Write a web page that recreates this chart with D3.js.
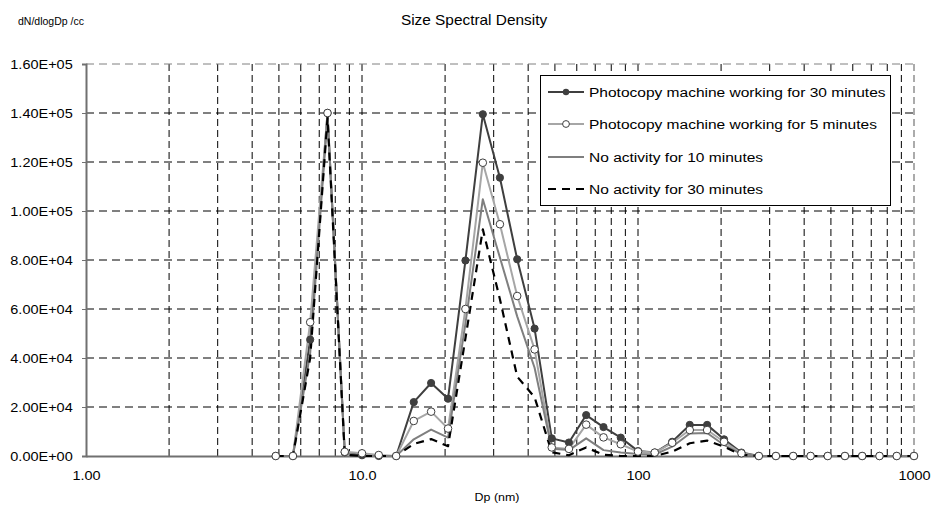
<!DOCTYPE html>
<html>
<head>
<meta charset="utf-8">
<script src="https://cdn.jsdelivr.net/npm/d3@7"></script>
<style>
  body { margin: 0; background: #fff; }
  svg { display: block; font-family: "Liberation Sans", Arial, sans-serif; }
</style>
</head>
<body>
<svg id="chart" width="931" height="510"></svg>
<script>
// ---- data ----
const dp = [4.87, 5.62, 6.49, 7.50, 8.66, 10.0, 11.5, 13.3, 15.4, 17.8, 20.5, 23.7, 27.4, 31.6, 36.5, 42.2, 48.7, 56.2, 64.9, 75.0, 86.6, 100, 115, 133, 154, 178, 205, 237, 274, 316, 365, 422, 487, 562, 649, 750, 866, 1000];

const working30 = [0, 0, 47500, 140000, 1500, 300, 0, 0, 22000, 29800, 23400, 79800, 139500, 113600, 80300, 52000, 7200, 5500, 16700, 11800, 7500, 2000, 1400, 5800, 12700, 12700, 6800, 1400, 0, 0, 0, 0, 0, 0, 0, 0, 0, 0];
const working5 = [0, 0, 54600, 140000, 1700, 1100, 400, 0, 14300, 18100, 11200, 60000, 119700, 94600, 65300, 43500, 3500, 2900, 12800, 7600, 4800, 1800, 1400, 5400, 10600, 10600, 5800, 1100, 0, 0, 0, 0, 0, 0, 0, 0, 0, 0];
const idle10 = [0, 0, 42000, 139000, 1200, 0, 0, 0, 6800, 10800, 7500, 54000, 104800, 81000, 57000, 36000, 3000, 2400, 7200, 2400, 1400, 800, 600, 3800, 9200, 9400, 4500, 800, 0, 0, 0, 0, 0, 0, 0, 0, 0, 0];
const idle30 = [0, 0, 40000, 138000, 500, 0, 0, 0, 4900, 6900, 4000, 48000, 92500, 64000, 32400, 24000, 1500, 300, 3500, 500, 0, 0, 0, 1800, 5200, 6300, 3800, 500, 0, 0, 0, 0, 0, 0, 0, 0, 0, 0];

const seriesNames = ["Photocopy machine working for 30 minutes", "Photocopy machine working for 5 minutes", "No activity for 10 minutes", "No activity for 30 minutes"];

const xTickValues = [1, 10, 100, 1000];
const xTickLabels = ["1.00", "10.0", "100", "1000"];
const yTickValues = [0, 20000, 40000, 60000, 80000, 100000, 120000, 140000, 160000];

const titleText = "Size Spectral Density";
const yAxisTitle = "dN/dlogDp /cc";
const xAxisTitle = "Dp (nm)";

// ---- layout ----
const svg = d3.select("#chart");
const x = d3.scaleLog().domain([1, 1000]).range([86, 914]);
const y = d3.scaleLinear().domain([0, 160000]).range([456, 64]);
const FONT = "Liberation Sans, Arial, sans-serif";

function sci(v) {
  if (v === 0) return "0.00E+00";
  const e = Math.floor(Math.log10(v) + 1e-9);
  const m = (v / Math.pow(10, e)).toFixed(2);
  return m + "E+" + String(e).padStart(2, "0");
}

// horizontally stretched text helper (reference text is wider than tall)
function stretchedText(g, tx, ty, str, size, sx, anchor) {
  return g.append("text")
    .attr("transform", `translate(${tx},${ty}) scale(${sx},1)`)
    .attr("text-anchor", anchor || "start")
    .attr("font-size", size).attr("font-family", FONT)
    .attr("fill", "#000").text(str);
}

// grid: vertical minor log lines
const vGrid = [];
for (let dec = 1; dec < 1000; dec *= 10) {
  for (let k = 2; k <= 10; k++) {
    const v = dec * k;
    if (v < 1000) vGrid.push(v);
  }
}
svg.append("g").selectAll("line").data(vGrid).join("line")
  .attr("x1", d => x(d)).attr("x2", d => x(d))
  .attr("y1", y(160000)).attr("y2", y(0))
  .attr("stroke", "#000").attr("stroke-width", 1)
  .attr("stroke-dasharray", "7,4");

svg.append("g").selectAll("line").data(yTickValues.filter(v => v > 0 && v < 160000)).join("line")
  .attr("x1", x(1)).attr("x2", x(1000))
  .attr("y1", d => y(d)).attr("y2", d => y(d))
  .attr("stroke", "#000").attr("stroke-width", 1)
  .attr("stroke-dasharray", "8,5");

// top & right borders (gray dashed)
svg.append("line").attr("x1", x(1)).attr("x2", x(1000)).attr("y1", y(160000)).attr("y2", y(160000))
  .attr("stroke", "#808080").attr("stroke-width", 1).attr("stroke-dasharray", "8,5");
svg.append("line").attr("x1", x(1000)).attr("x2", x(1000)).attr("y1", y(160000)).attr("y2", y(0))
  .attr("stroke", "#909090").attr("stroke-width", 1.5).attr("stroke-dasharray", "7,4");

// axes
const ySX = 1.16;
const yAxis = d3.axisLeft(y).tickValues(yTickValues).tickFormat(sci).tickSize(4).tickPadding(9);
const gy = svg.append("g").attr("transform", `translate(${x(1)},0)`).call(yAxis);
gy.select(".domain").attr("stroke", "#707070").attr("stroke-width", 2);
gy.selectAll(".tick line").attr("stroke", "#707070");
gy.selectAll("text").attr("font-size", 12.5).attr("fill", "#000")
  .attr("font-family", FONT)
  .attr("x", -13.3 / ySX)
  .attr("transform", `scale(${ySX},1)`);

const xSX = 1.16;
const xAxis = d3.axisBottom(x).tickValues(xTickValues).tickFormat((d, i) => xTickLabels[i]).tickSize(0).tickPadding(15);
const gx = svg.append("g").attr("transform", `translate(0,${y(0)})`).call(xAxis);
gx.select(".domain").attr("stroke", "#707070").attr("stroke-width", 2);
gx.selectAll("text").attr("font-size", 12.5).attr("fill", "#000")
  .attr("font-family", FONT)
  .attr("transform", `scale(${xSX},1)`);

// series
const makeData = vals => dp.map((d, i) => ({ x: d, y: vals[i] }));
const line = d3.line().x(d => x(d.x)).y(d => y(d.y));

const styles = [
  { vals: working30, stroke: "#3f3f3f", width: 2, dash: null, marker: "filled" },
  { vals: working5, stroke: "#a6a6a6", width: 2, dash: null, marker: "open" },
  { vals: idle10, stroke: "#7f7f7f", width: 2, dash: null, marker: null },
  { vals: idle30, stroke: "#000", width: 2.2, dash: "8,6", marker: null }
];

const gl = svg.append("g");
styles.forEach(s => {
  gl.append("path").datum(makeData(s.vals))
    .attr("d", line).attr("fill", "none")
    .attr("stroke", s.stroke).attr("stroke-width", s.width)
    .attr("stroke-dasharray", s.dash).attr("stroke-linejoin", "round");
});
// markers
svg.append("g").selectAll("circle").data(makeData(working30)).join("circle")
  .attr("cx", d => x(d.x)).attr("cy", d => y(d.y)).attr("r", 3.6)
  .attr("fill", "#3f3f3f").attr("stroke", "#3f3f3f").attr("stroke-width", 1);
svg.append("g").selectAll("circle").data(makeData(working5)).join("circle")
  .attr("cx", d => x(d.x)).attr("cy", d => y(d.y)).attr("r", 3.8)
  .attr("fill", "#fff").attr("stroke", "#3f3f3f").attr("stroke-width", 1);

// legend
const lg = svg.append("g");
lg.append("rect").attr("x", 540.5).attr("y", 75.5).attr("width", 350).attr("height", 130)
  .attr("fill", "#fff").attr("stroke", "#000").attr("stroke-width", 1);
const rowsY = [92, 124, 157, 189];
styles.forEach((s, i) => {
  const ry = rowsY[i];
  lg.append("line").attr("x1", 548).attr("x2", 584).attr("y1", ry).attr("y2", ry)
    .attr("stroke", s.stroke).attr("stroke-width", s.width).attr("stroke-dasharray", s.dash);
  if (s.marker === "filled") {
    lg.append("circle").attr("cx", 566).attr("cy", ry).attr("r", 3.2).attr("fill", "#3f3f3f");
  } else if (s.marker === "open") {
    lg.append("circle").attr("cx", 566).attr("cy", ry).attr("r", 3.4).attr("fill", "#fff")
      .attr("stroke", "#3f3f3f").attr("stroke-width", 1);
  }
  stretchedText(lg, 589, ry + 5, seriesNames[i], 13.5, 1.15, "start");
});

// titles
stretchedText(svg, 474, 25, titleText, 14, 1.1, "middle");
stretchedText(svg, 18, 25, yAxisTitle, 10.5, 1.0, "start");
stretchedText(svg, 497, 501, xAxisTitle, 11, 1.13, "middle");
</script>
</body>
</html>
